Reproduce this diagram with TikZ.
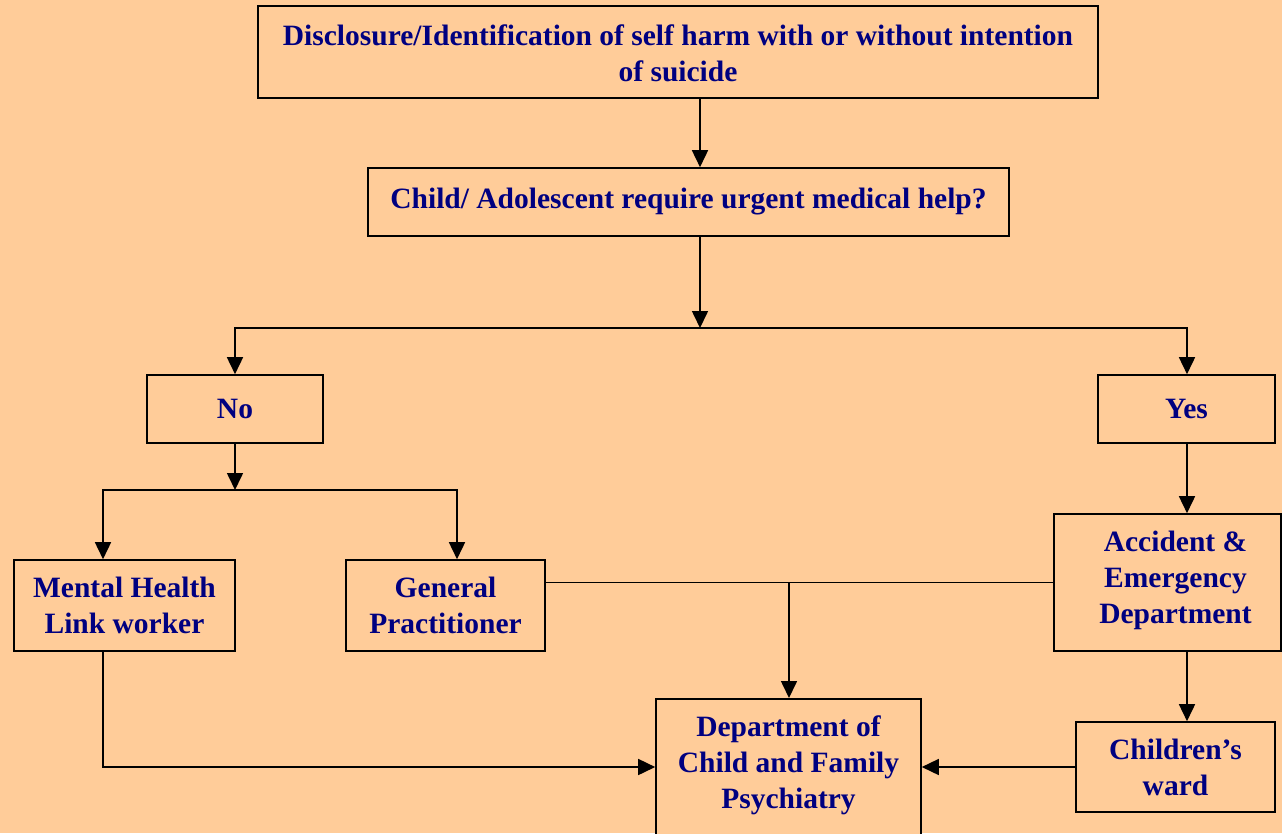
\documentclass[tikz,border=0pt]{standalone}
\usepackage{fontspec}
\setmainfont{Liberation Serif}
\usetikzlibrary{arrows.meta}
\definecolor{bgc}{HTML}{FFCC99}
\definecolor{txtc}{HTML}{000080}
\begin{document}
\begin{tikzpicture}[x=1pt,y=-1pt,
  box/.style={draw=black,line width=1.6pt,fill=bgc,inner sep=0pt,align=center,
    text=txtc,font=\fontsize{29.5}{36}\selectfont\bfseries},
  txt/.style={inner sep=0pt,align=center,text=txtc,font=\fontsize{29.5}{36}\selectfont\bfseries},
  conn/.style={line width=1.6pt,draw=black},
  arr/.style={conn,-{Triangle[width=16pt,length=17pt]}}]
\useasboundingbox (0,0) rectangle (1282,833);
\clip (0,0) rectangle (1282,833);
\fill[bgc] (0,0) rectangle (1282,833);

\node[box,minimum width=840pt,minimum height=92pt] (top) at (678,52) {};
\node[txt] (topt) at (678,53.5)
  {Disclosure/Identification of self harm with or without intention\\of suicide};
\node[box,minimum width=641pt,minimum height=68pt] (q) at (688.5,202)
  {Child/ Adolescent require urgent medical help?};
\node[box,minimum width=176pt,minimum height=68pt] (no) at (235,409) {No};
\node[box,minimum width=177pt,minimum height=68pt] (yes) at (1186.5,409) {Yes};
\node[box,minimum width=221pt,minimum height=91pt] (mh) at (124.5,605.5) {Mental Health\\Link worker};
\node[box,minimum width=199pt,minimum height=91pt] (gp) at (445.5,605.5) {General\\Practitioner};
\node[box,minimum width=227pt,minimum height=137pt] (ae) at (1167.5,582.5) {};
\node[txt] (aet) at (1175.5,580) {Accident \&\\Emergency\\Department};
\node[box,minimum width=265pt,minimum height=160pt,anchor=north] (dcfp) at (788.5,698) {};
\node[txt] (dcfpt) at (788.5,765) {Department of\\Child and Family\\Psychiatry};
\node[box,minimum width=199pt,minimum height=90pt] (cw) at (1175.5,767) {Children’s\\ward};

\coordinate (j1) at (700,328);
\coordinate (j2) at (235,490);

\draw[arr] (top.south -| j1) -- (q.north -| j1);
\draw[arr] (q.south -| j1) -- (j1);
\draw[arr] (j1) -| (no.north);
\draw[arr] (j1) -| ([xshift=0.5pt]yes.north);
\draw[arr] (no.south) -- (j2);
\draw[arr] (j2) -| ([xshift=-21.5pt]mh.north);
\draw[arr] (j2) -| ([xshift=11.5pt]gp.north);
\draw[arr] ([xshift=0.5pt]yes.south) -- ([xshift=0.5pt]yes.south |- ae.north);
\draw[conn] (gp.east |- ae.west) -- (ae.west);
\draw[arr] ([xshift=0.5pt]dcfp.north |- ae.west) -- ([xshift=0.5pt]dcfp.north);
\draw[arr] ([xshift=-21.5pt]mh.south) |- (dcfp.west |- cw.west);
\draw[arr] (cw.west) -- (dcfp.east |- cw.west);
\draw[arr] ([xshift=19.5pt]ae.south) -- ([xshift=19.5pt]ae.south |- cw.north);
\end{tikzpicture}
\end{document}
